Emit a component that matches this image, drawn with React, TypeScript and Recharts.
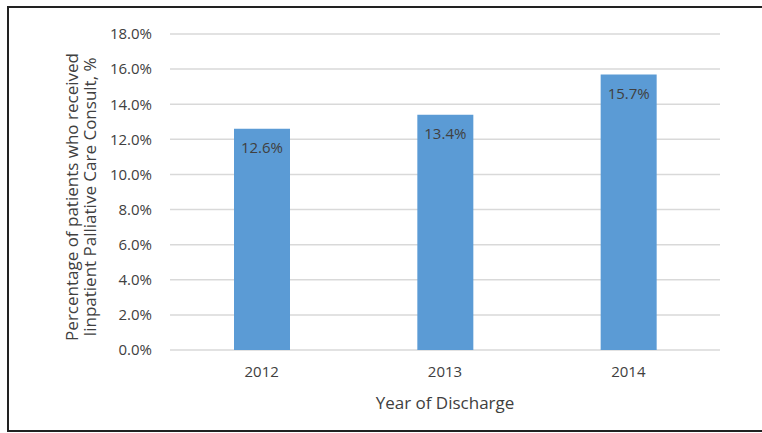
import { Bar, BarChart, CartesianGrid, LabelList, XAxis, YAxis } from "recharts";

const years = ["2012", "2013", "2014"];
const consultPct = [12.6, 13.4, 15.7];
const yTicks = [0, 2, 4, 6, 8, 10, 12, 14, 16, 18];
const yTitle = ["Percentage of patients who received", "Iinpatient Palliative Care Consult, %"];
const xTitle = "Year of Discharge";

const data = years.map((year, i) => ({ year, value: consultPct[i] }));

const font = "'Open Sans', sans-serif";
const textColor = "#404040";
const pct = (v: number) => `${Number(v).toFixed(1)}%`;

function YTitle({ viewBox }: any) {
  const cy = viewBox.y + viewBox.height / 2 + 5;
  return (
    <g transform={`translate(72, ${cy}) rotate(-90)`}>
      <text textAnchor="middle" fill={textColor} fontSize={17} fontFamily={font} y={6}>
        {yTitle[0]}
      </text>
      <text textAnchor="middle" fill={textColor} fontSize={17} fontFamily={font} y={24}>
        {yTitle[1]}
      </text>
    </g>
  );
}

function XTitle({ viewBox }: any) {
  return (
    <text
      x={viewBox.x + viewBox.width / 2}
      y={409}
      textAnchor="middle"
      fill={textColor}
      fontSize={17}
      fontFamily={font}
    >
      {xTitle}
    </text>
  );
}

export default function App() {
  return (
    <div style={{ position: "fixed", left: 0, top: 0, width: 762, height: 433, background: "#fff" }}>
      <div
        style={{
          position: "absolute",
          left: 7,
          top: 6,
          width: 770,
          height: 426,
          border: "2px solid #222",
          boxSizing: "border-box"
        }}
      />
      <div style={{ position: "absolute", left: 0, top: 0 }}>
        <BarChart
          width={762}
          height={433}
          data={data}
          margin={{ top: 34, right: 42, bottom: 53, left: 100 }}
          barCategoryGap="34%"
        >
          <CartesianGrid vertical={false} stroke="#d9d9d9" strokeWidth={1.5} />
          <XAxis
            dataKey="year"
            height={30}
            axisLine={false}
            tickLine={false}
            tickSize={0}
            tickMargin={16}
            tick={{ fill: textColor, fontSize: 15, fontFamily: font }}
            label={<XTitle />}
          />
          <YAxis
            width={70}
            domain={[0, 18]}
            ticks={yTicks}
            interval={0}
            axisLine={false}
            tickLine={false}
            tickSize={0}
            tickMargin={18}
            tickFormatter={pct}
            tick={{ fill: textColor, fontSize: 15, fontFamily: font }}
            label={<YTitle />}
          />
          <Bar dataKey="value" fill="#5b9bd5" barSize={56} isAnimationActive={false}>
            <LabelList
              dataKey="value"
              position="insideTop"
              offset={14}
              formatter={(v: any) => pct(v)}
              fill={textColor}
              fontSize={15}
              fontFamily={font}
            />
          </Bar>
        </BarChart>
      </div>
    </div>
  );
}
